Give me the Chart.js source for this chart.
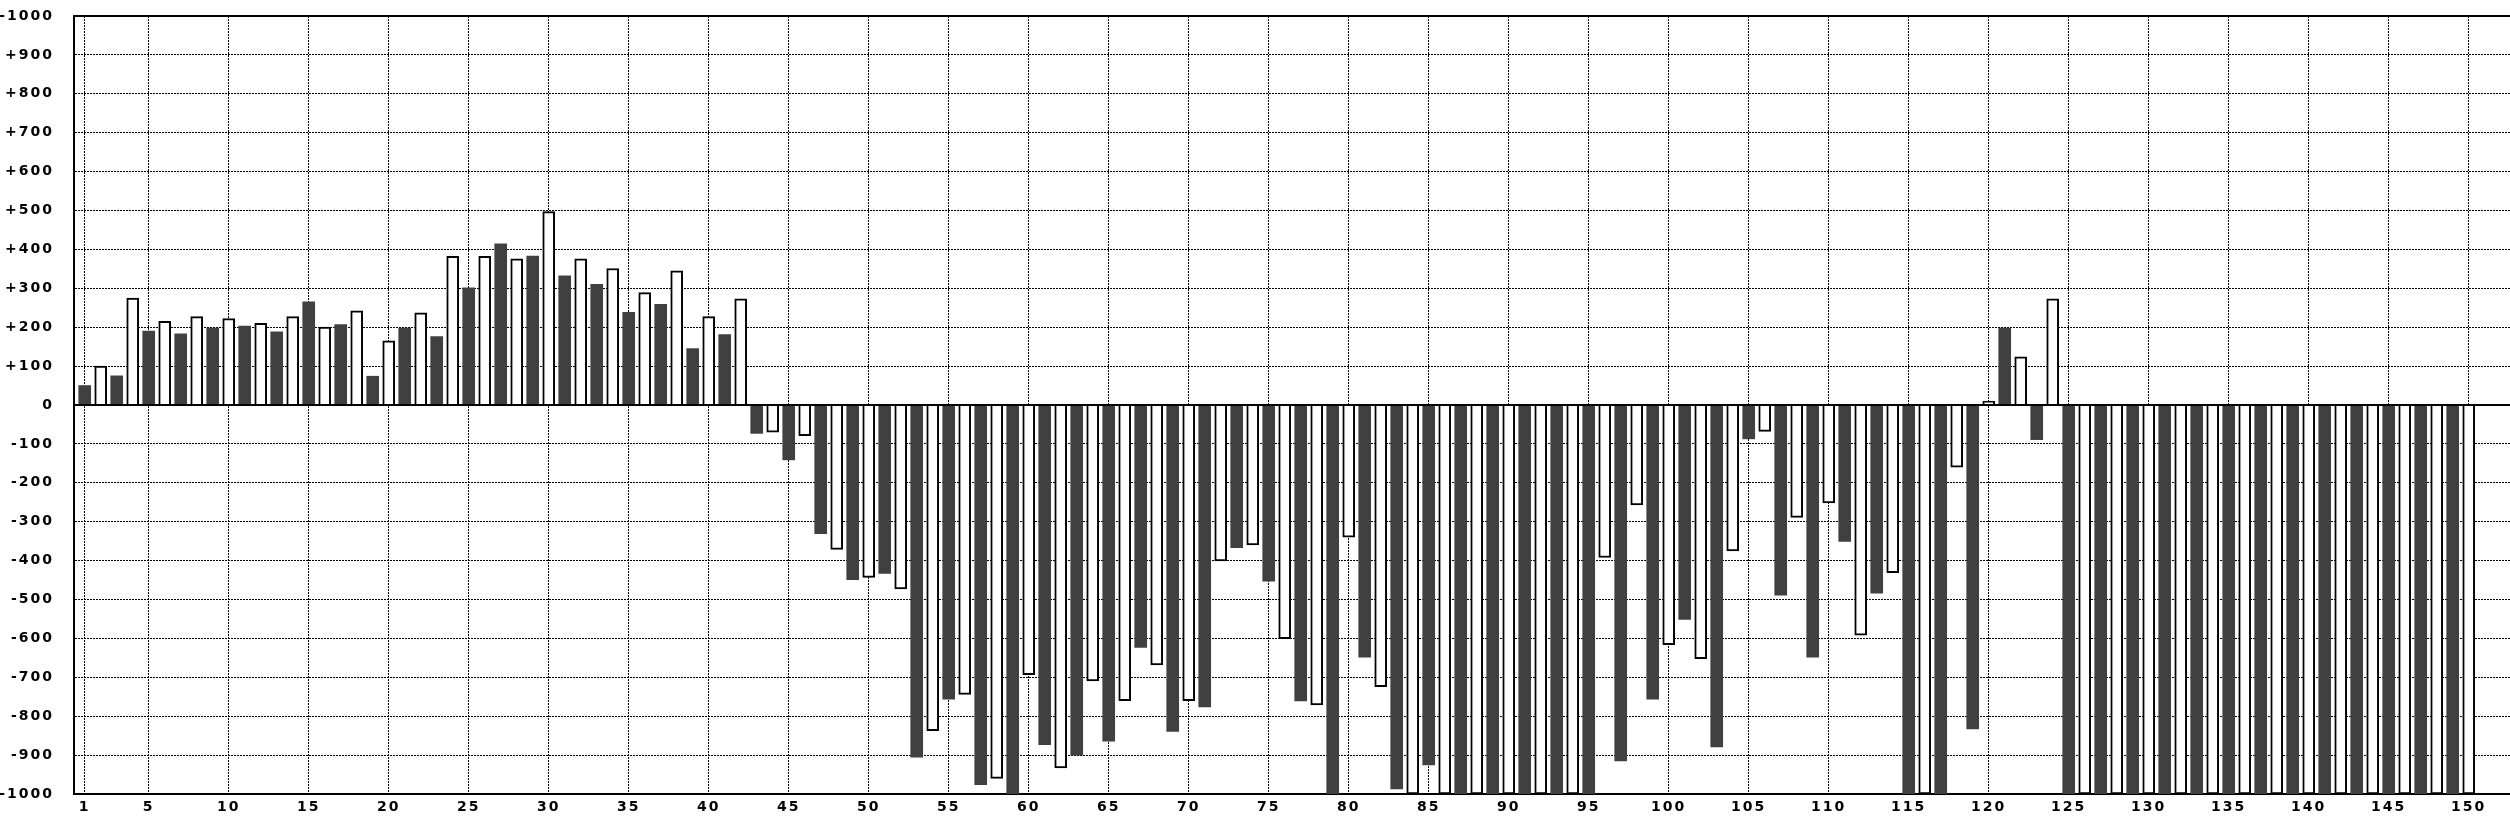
<!DOCTYPE html>
<html>
<head>
<meta charset="utf-8">
<script src="https://cdn.jsdelivr.net/npm/chart.js@4/dist/chart.umd.min.js"></script>
<style>
	body { margin: 0; background: #fff; }
	#wrap { width: 2510px; height: 816px; }
</style>
</head>
<body>
<div id="wrap"><canvas id="chart" width="2510" height="816"></canvas></div>
<script>
// one value per position, odd positions are the dark bars, even ones the open bars
let positions = [];
for (let i = 1; i <= 150; i++) positions.push(i);

let values = [
	50, 100, 75, 275, 190, 215, 183, 227, 198, 222,
	203, 210, 188, 227, 265, 200, 207, 242, 74, 165,
	198, 237, 176, 382, 301, 382, 414, 376, 383, 497,
	332, 376, 310, 351, 238, 289, 259, 345, 145, 227,
	181, 273, -73, -70, -141, -79, -331, -371, -449, -443,
	-433, -473, -905, -837, -756, -744, -976, -960, -1000, -693,
	-873, -933, -900, -709, -864, -760, -623, -668, -839, -760,
	-776, -401, -367, -360, -453, -601, -761, -771, -1000, -340,
	-648, -724, -987, -1000, -925, -1000, -1000, -1000, -1000, -1000,
	-1000, -1000, -1000, -1000, -1000, -392, -915, -257, -756, -616,
	-551, -652, -879, -375, -87, -68, -489, -289, -648, -252,
	-351, -592, -484, -431, -1000, -1000, -1000, -160, -833, 10,
	198, 124, -89, 273, -1000, -1000, -1000, -1000, -1000, -1000,
	-1000, -1000, -1000, -1000, -1000, -1000, -1000, -1000, -1000, -1000,
	-1000, -1000, -1000, -1000, -1000, -1000, -1000, -1000, -1000, -1000,
];

let xTicks = [1, 5, 10, 15, 20, 25, 30, 35, 40, 45, 50, 55, 60, 65, 70, 75,
	80, 85, 90, 95, 100, 105, 110, 115, 120, 125, 130, 135, 140, 145, 150];
let yTicks = [1000, 900, 800, 700, 600, 500, 400, 300, 200, 100, 0,
	-100, -200, -300, -400, -500, -600, -700, -800, -900, -1000];

let darkColor = "#404040";
let tickFont = { family: "'DejaVu Sans', sans-serif", size: 14, weight: "bold" };

let spacing = {
	id: "spacing",
	beforeLayout(chart) { chart.ctx.letterSpacing = "2px"; },
	beforeDraw(chart) { chart.ctx.letterSpacing = "2px"; },
};

// solid zero line and top frame line over the dotted grid
let frameLines = {
	id: "frameLines",
	afterDatasetsDraw(chart) {
		let { ctx, chartArea, scales } = chart;
		ctx.save();
		ctx.strokeStyle = "#000";
		ctx.lineWidth = 2;
		[0, 1000].forEach((v) => {
			let y = Math.round(scales.y.getPixelForValue(v));
			ctx.beginPath();
			ctx.moveTo(chartArea.left, y);
			ctx.lineTo(chartArea.right, y);
			ctx.stroke();
		});
		ctx.restore();
	},
};

let renderChart = () => {
	let canvas = document.getElementById("chart");

	new Chart(canvas, {
		type: "bar",
		data: {
			datasets: [
				{
					data: positions.map((p, i) => ({ x: p, y: values[i] })),
					backgroundColor: positions.map((p) => (p % 2 ? darkColor : "#ffffff")),
					borderColor: "#000000",
					borderWidth: positions.map((p) => (p % 2 ? 0 : 2)),
					barThickness: 12,
				},
			],
		},
		options: {
			responsive: false,
			animation: false,
			layout: { padding: { top: 16, right: 0, bottom: 0, left: 0 } },
			plugins: { legend: { display: false }, tooltip: { enabled: false } },
			scales: {
				x: {
					type: "linear",
					offset: false,
					min: 0.33,
					max: 152.58,
					afterBuildTicks: (scale) => {
						scale.ticks = xTicks.map((v) => ({ value: v }));
					},
					afterFit: (scale) => {
						scale.height = 22;
					},
					grid: { color: "#000", lineWidth: 1, drawTicks: false, offset: false },
					border: { display: true, color: "#000", width: 2, dash: [2, 1] },
					ticks: {
						font: tickFont,
						color: "#000",
						padding: 5,
						maxRotation: 0,
						autoSkip: false,
						callback: (v) => String(v),
					},
				},
				y: {
					min: -1000,
					max: 1000,
					afterBuildTicks: (scale) => {
						scale.ticks = yTicks.map((v) => ({ value: v }));
					},
					afterFit: (scale) => {
						scale.width = 74;
						scale.paddingTop = 0;
						scale.paddingBottom = 0;
					},
					grid: { color: "#000", lineWidth: 1, drawTicks: false },
					border: { display: true, color: "#000", width: 2, dash: [2, 1] },
					ticks: {
						font: tickFont,
						color: "#000",
						padding: 20,
						autoSkip: false,
						callback: (v) => (v > 0 && v < 1000 ? "+" + v : v === 1000 ? "-1000" : String(v)),
					},
				},
			},
		},
		plugins: [spacing, frameLines],
	});
};
renderChart();
</script>
</body>
</html>
